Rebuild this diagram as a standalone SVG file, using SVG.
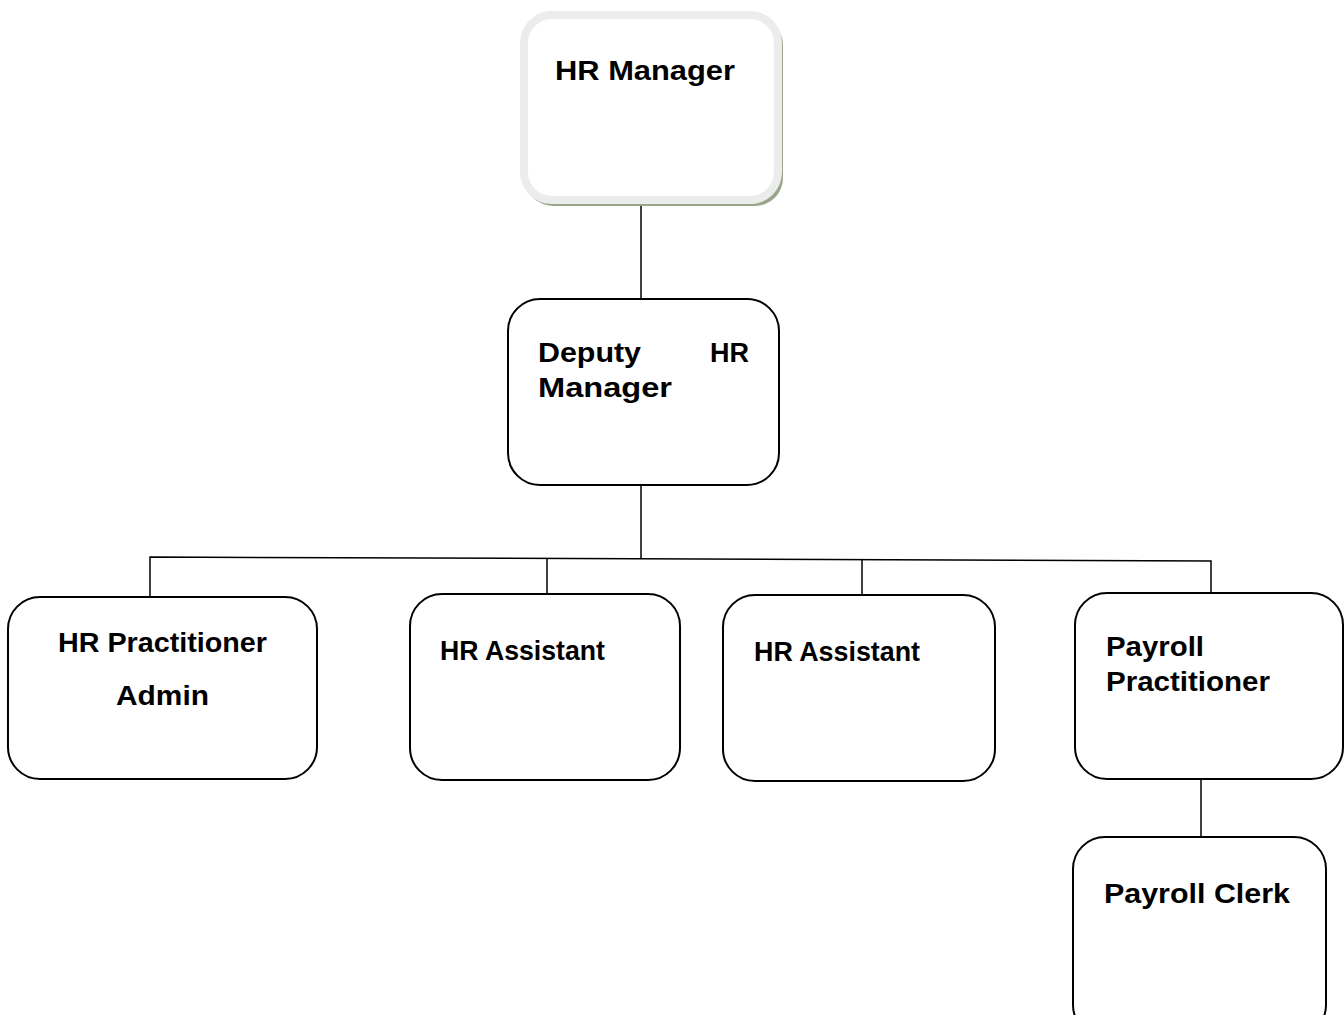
<svg xmlns="http://www.w3.org/2000/svg" width="1344" height="1015" viewBox="0 0 1344 1015">
<style>
.box{fill:#fff;stroke:#000;stroke-width:2}
.lbl{font-family:"Liberation Sans",Arial,sans-serif;font-weight:bold;font-size:27px;fill:#000}
.con{stroke:#000;stroke-width:1.5;fill:none}
</style>
<rect width="1344" height="1015" fill="#fff"/>
<g id="connectors">
<line class="con" x1="641" y1="205" x2="641" y2="299"/>
<line class="con" x1="641" y1="485" x2="641" y2="558"/>
<polyline class="con" points="150,597 150,557 1211,561 1211,593"/>
<line class="con" x1="547" y1="558" x2="547" y2="594"/>
<line class="con" x1="862" y1="560" x2="862" y2="595"/>
<line class="con" x1="1201" y1="779" x2="1201" y2="837"/>
</g>
<g id="hr-manager">
<rect x="525" y="17" width="258" height="189" rx="28" fill="#9aa68a"/>
<rect x="524" y="15" width="254" height="185" rx="28" fill="#fff" stroke="#ececec" stroke-width="8"/>
<text class="lbl" x="555" y="80" textLength="180" lengthAdjust="spacingAndGlyphs">HR Manager</text>
</g>
<g id="deputy-hr-manager">
<rect class="box" x="508" y="299" width="271" height="186" rx="32"/>
<text class="lbl" x="538" y="362" textLength="103" lengthAdjust="spacingAndGlyphs">Deputy</text>
<text class="lbl" x="749" y="362" text-anchor="end">HR</text>
<text class="lbl" x="538" y="397" textLength="134" lengthAdjust="spacingAndGlyphs">Manager</text>
</g>
<g id="hr-practitioner-admin">
<rect class="box" x="8" y="597" width="309" height="182" rx="32"/>
<text class="lbl" x="58" y="652" textLength="209" lengthAdjust="spacingAndGlyphs">HR Practitioner</text>
<text class="lbl" x="116" y="705" textLength="93" lengthAdjust="spacingAndGlyphs">Admin</text>
</g>
<g id="hr-assistant-1">
<rect class="box" x="410" y="594" width="270" height="186" rx="32"/>
<text class="lbl" x="440" y="660" textLength="165" lengthAdjust="spacingAndGlyphs">HR Assistant</text>
</g>
<g id="hr-assistant-2">
<rect class="box" x="723" y="595" width="272" height="186" rx="32"/>
<text class="lbl" x="754" y="661" textLength="166" lengthAdjust="spacingAndGlyphs">HR Assistant</text>
</g>
<g id="payroll-practitioner">
<rect class="box" x="1075" y="593" width="268" height="186" rx="32"/>
<text class="lbl" x="1106" y="656" textLength="98" lengthAdjust="spacingAndGlyphs">Payroll</text>
<text class="lbl" x="1106" y="691" textLength="164" lengthAdjust="spacingAndGlyphs">Practitioner</text>
</g>
<g id="payroll-clerk">
<rect class="box" x="1073" y="837" width="253" height="200" rx="32"/>
<text class="lbl" x="1104" y="903" textLength="186" lengthAdjust="spacingAndGlyphs">Payroll Clerk</text>
</g>
</svg>
